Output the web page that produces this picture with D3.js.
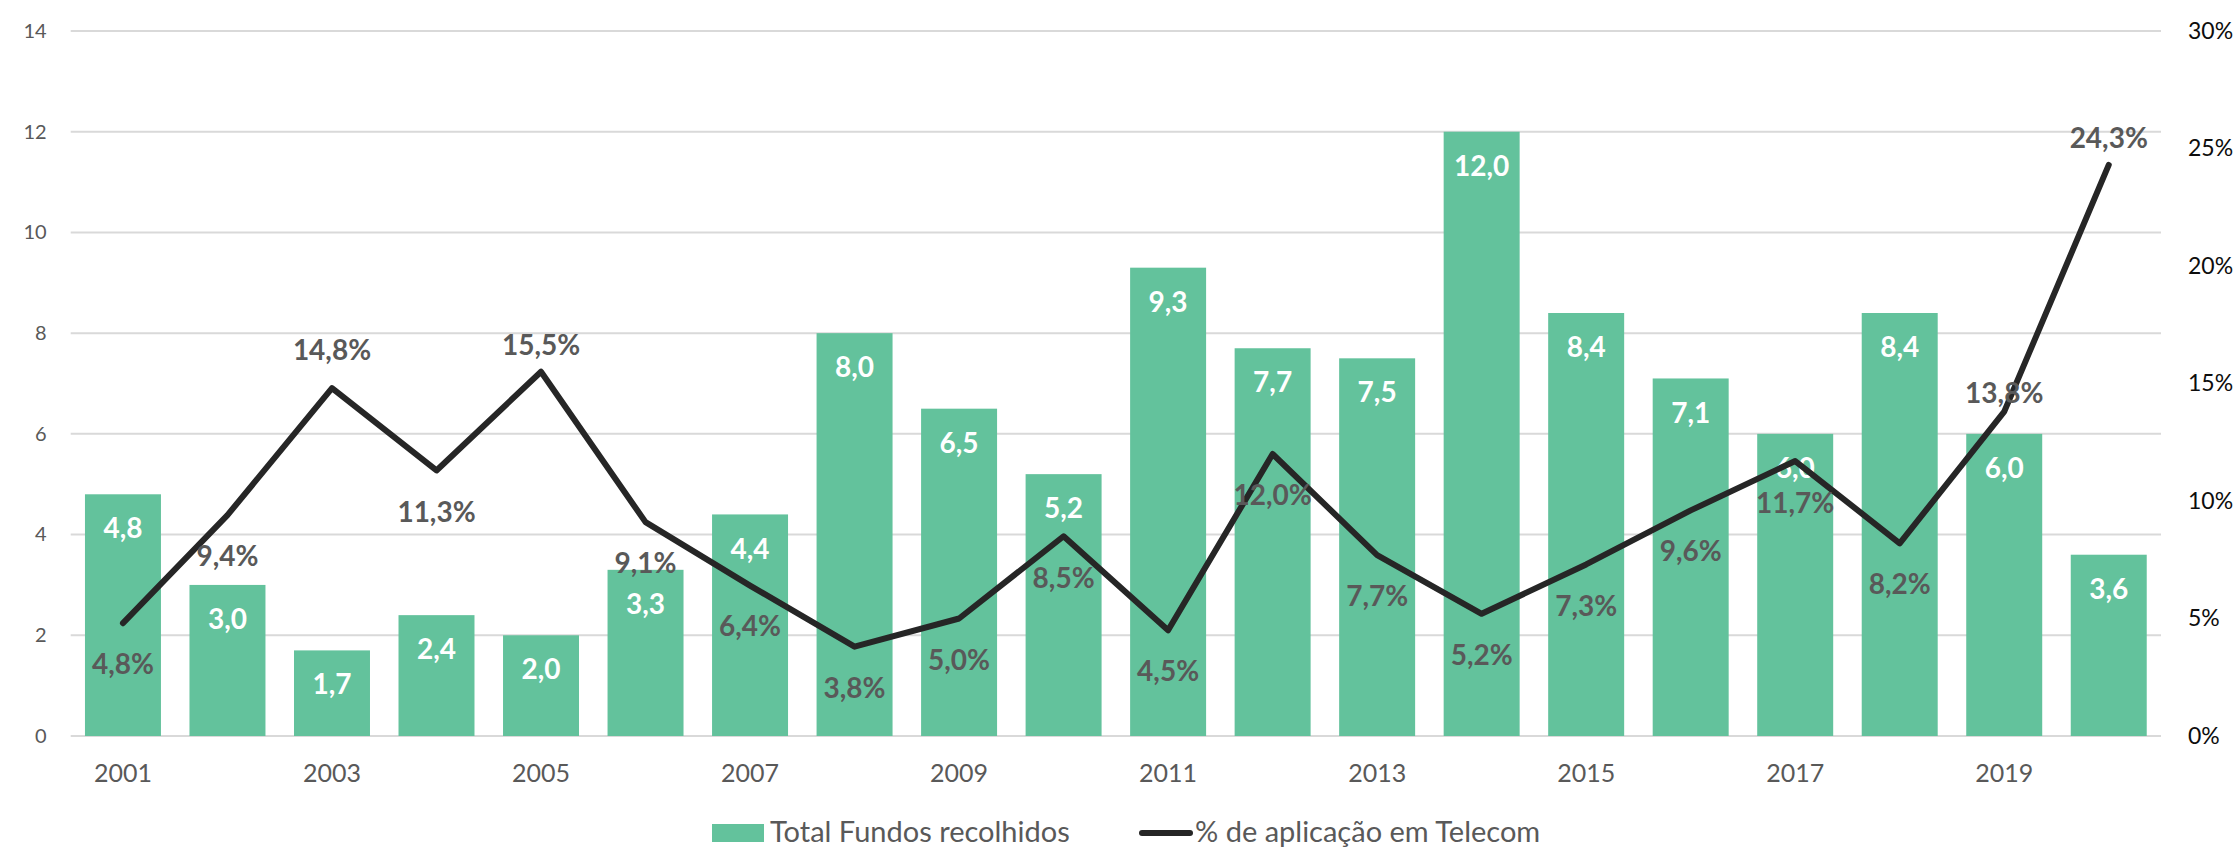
<!DOCTYPE html>
<html>
<head>
<meta charset="utf-8">
<script src="https://cdn.jsdelivr.net/npm/d3@7"></script>
<style>
  html, body { margin: 0; padding: 0; background: #fff; }
  svg { display: block; font-family: Lato, "Open Sans", sans-serif; }
</style>
</head>
<body>
<svg width="2239" height="849"></svg>
<script>
// data
var years = ["2001","2002","2003","2004","2005","2006","2007","2008","2009","2010",
             "2011","2012","2013","2014","2015","2016","2017","2018","2019","2020"];
var fundos = [4.8, 3.0, 1.7, 2.4, 2.0, 3.3, 4.4, 8.0, 6.5, 5.2,
              9.3, 7.7, 7.5, 12.0, 8.4, 7.1, 6.0, 8.4, 6.0, 3.6];
var telecomPct = [0.048, 0.094, 0.148, 0.113, 0.155, 0.091, 0.064, 0.038, 0.050, 0.085,
                  0.045, 0.120, 0.077, 0.052, 0.073, 0.096, 0.117, 0.082, 0.138, 0.243];
var leftTicks = [0, 2, 4, 6, 8, 10, 12, 14];
var rightTicks = [0, 0.05, 0.10, 0.15, 0.20, 0.25, 0.30];
var xTickYears = ["2001","2003","2005","2007","2009","2011","2013","2015","2017","2019"];
var legendNames = ["Total Fundos recolhidos", "% de aplicação em Telecom"];

// label placement for the line labels (vertical shift from the point, px)
var lineLabelDy = [41, 41, -38, 41, -27, 41, 40, 41, 41, 42,
                   41, 41, 41, 41, 41, 41, 42, 41, -19, -27];

var svg = d3.select("svg");

// plot area
var plotLeft = 70.7, plotRight = 2161, plotTop = 31, plotBottom = 736;

var ptBR = d3.formatLocale({decimal: ",", thousands: ".", grouping: [3], currency: ["R$", ""]});
var fmt1 = ptBR.format(".1f");
var fmtPct1 = ptBR.format(".1%");
var fmtPct0 = ptBR.format(".0%");

var x = d3.scaleBand()
    .domain(years)
    .range([plotLeft, plotRight])
    .paddingInner(0.273)
    .paddingOuter(0.1365);

var yL = d3.scaleLinear().domain([0, 14]).range([plotBottom, plotTop]);
var yR = d3.scaleLinear().domain([0, 0.30]).range([plotBottom, plotTop]);

// gridlines
svg.append("g")
    .selectAll("line")
    .data(leftTicks)
    .enter().append("line")
    .attr("x1", plotLeft).attr("x2", plotRight)
    .attr("y1", function (d) { return yL(d); })
    .attr("y2", function (d) { return yL(d); })
    .attr("stroke", "#d9d9d9")
    .attr("stroke-width", 2);

// left axis
var gL = svg.append("g")
    .attr("transform", "translate(" + (plotLeft - 24) + ",0)")
    .call(d3.axisLeft(yL).tickValues(leftTicks).tickSize(0).tickPadding(0));
gL.select(".domain").remove();
gL.selectAll("text")
    .attr("fill", "#595959")
    .style("font-size", "20px")
    .style("font-family", "Lato, sans-serif");

// right axis
var gR = svg.append("g")
    .attr("transform", "translate(" + (plotRight + 27) + ",0)")
    .call(d3.axisRight(yR).tickValues(rightTicks).tickFormat(fmtPct0).tickSize(0).tickPadding(0));
gR.select(".domain").remove();
gR.selectAll("text")
    .attr("fill", "#0d0d0d")
    .style("font-size", "23px")
    .style("font-family", "Lato, sans-serif");

// bottom axis
var gX = svg.append("g")
    .attr("transform", "translate(0," + plotBottom + ")")
    .call(d3.axisBottom(x).tickValues(xTickYears).tickSize(0).tickPadding(0));
gX.select(".domain").remove();
gX.selectAll("text")
    .attr("y", 37)
    .attr("dy", "0.36em")
    .attr("fill", "#595959")
    .style("font-size", "25px")
    .style("font-family", "Lato, sans-serif");

// bars
svg.append("g")
    .selectAll("rect")
    .data(fundos)
    .enter().append("rect")
    .attr("x", function (d, i) { return x(years[i]); })
    .attr("y", function (d) { return yL(d); })
    .attr("width", x.bandwidth())
    .attr("height", function (d) { return yL(0) - yL(d); })
    .attr("fill", "#63c29c");

// bar labels
svg.append("g")
    .selectAll("text")
    .data(fundos)
    .enter().append("text")
    .attr("x", function (d, i) { return x(years[i]) + x.bandwidth() / 2; })
    .attr("y", function (d) { return yL(d) + 34; })
    .attr("dy", "0.36em")
    .attr("text-anchor", "middle")
    .attr("fill", "#ffffff")
    .style("font-weight", "bold")
    .style("font-size", "28px")
    .text(function (d) { return fmt1(d); });

// line
var line = d3.line()
    .x(function (d, i) { return x(years[i]) + x.bandwidth() / 2; })
    .y(function (d) { return yR(d); });

svg.append("path")
    .datum(telecomPct)
    .attr("d", line)
    .attr("fill", "none")
    .attr("stroke", "#262626")
    .attr("stroke-width", 6)
    .attr("stroke-linejoin", "round")
    .attr("stroke-linecap", "round");

// line labels
svg.append("g")
    .selectAll("text")
    .data(telecomPct)
    .enter().append("text")
    .attr("x", function (d, i) { return x(years[i]) + x.bandwidth() / 2; })
    .attr("y", function (d, i) { return yR(d) + lineLabelDy[i]; })
    .attr("dy", "0.36em")
    .attr("text-anchor", "middle")
    .attr("fill", "#595959")
    .style("font-weight", "bold")
    .style("font-size", "28px")
    .text(function (d) { return fmtPct1(d); });

// legend
var legY = 832;
var leg = svg.append("g");
leg.append("rect")
    .attr("x", 712).attr("y", legY - 8)
    .attr("width", 52).attr("height", 18)
    .attr("fill", "#63c29c");
leg.append("text")
    .attr("x", 770).attr("y", legY)
    .attr("dy", "0.36em")
    .attr("fill", "#595959")
    .style("font-size", "29px")
    .text(legendNames[0]);
leg.append("line")
    .attr("x1", 1142).attr("x2", 1190)
    .attr("y1", legY + 1).attr("y2", legY + 1)
    .attr("stroke", "#262626")
    .attr("stroke-width", 6)
    .attr("stroke-linecap", "round");
leg.append("text")
    .attr("x", 1195).attr("y", legY)
    .attr("dy", "0.36em")
    .attr("fill", "#595959")
    .style("font-size", "29px")
    .text(legendNames[1]);
</script>
</body>
</html>
